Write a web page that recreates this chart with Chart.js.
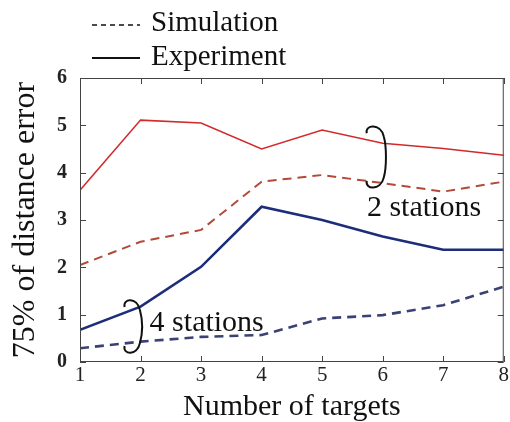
<!DOCTYPE html>
<html>
<head>
<meta charset="utf-8">
<script src="https://cdn.jsdelivr.net/npm/chart.js@4"></script>
<style>
  html, body { margin: 0; padding: 0; background: #fff; }
  #wrap { width: 510px; height: 422px; }
</style>
</head>
<body>
<div id="wrap"><canvas id="myChart" width="510" height="422"></canvas></div>
<script>
const serif = "'Liberation Serif', 'DejaVu Serif', serif";

// number of targets on the x axis
const targets = [1, 2, 3, 4, 5, 6, 7, 8];
// 75% distance error, 2 stations
const exp2 = [3.63, 5.11, 5.05, 4.50, 4.90, 4.62, 4.51, 4.37];
const sim2 = [2.05, 2.54, 2.79, 3.81, 3.95, 3.78, 3.60, 3.81];
// 75% distance error, 4 stations
const exp4 = [0.68, 1.17, 2.01, 3.28, 3.00, 2.65, 2.37, 2.37];
const sim4 = [0.29, 0.43, 0.53, 0.57, 0.92, 0.99, 1.20, 1.59];
const yTicks = [0, 1, 2, 3, 4, 5, 6];

const pts = (vals) => targets.map((t, i) => ({ x: t, y: vals[i] }));

// brackets + labels, in data units
const groups = [
  { text: '2 stations', bx: 5.72, bx2: 6.05, top: 4.98, bot: 3.68, tx: 5.74, ty: 3.25 },
  { text: '4 stations', bx: 1.72, bx2: 2.02, top: 1.31, bot: 0.19, tx: 2.15, ty: 0.82 }
];

const decor = {
  id: 'decor',
  afterDraw(chart) {
    const ctx = chart.ctx;
    const xs = chart.scales.x, ys = chart.scales.y;
    const a = chart.chartArea;
    ctx.save();

    // frame
    ctx.strokeStyle = '#444';
    ctx.lineWidth = 1;
    ctx.strokeRect(a.left + 0.5, a.top + 0.5, a.right - a.left - 1, a.bottom - a.top - 1);

    // inward ticks on all sides
    ctx.beginPath();
    targets.forEach(t => {
      const px = Math.round(xs.getPixelForValue(t)) + 0.5;
      ctx.moveTo(px, a.bottom); ctx.lineTo(px, a.bottom - 6);
      ctx.moveTo(px, a.top); ctx.lineTo(px, a.top + 6);
    });
    yTicks.forEach(v => {
      const py = Math.round(ys.getPixelForValue(v)) + 0.5;
      ctx.moveTo(a.left, py); ctx.lineTo(a.left + 6, py);
      ctx.moveTo(a.right, py); ctx.lineTo(a.right - 6, py);
    });
    ctx.stroke();

    // hooked ")" brackets and group labels
    ctx.strokeStyle = '#111';
    ctx.lineWidth = 2;
    ctx.fillStyle = '#111';
    ctx.font = '30px ' + serif;
    ctx.textBaseline = 'middle';
    groups.forEach(g => {
      const x0 = xs.getPixelForValue(g.bx);
      const x1 = xs.getPixelForValue(g.bx2);
      const y0 = ys.getPixelForValue(g.top);
      const y1 = ys.getPixelForValue(g.bot);
      const w = x1 - x0;
      ctx.beginPath();
      ctx.moveTo(x0 + 1, y0 + 7);
      ctx.bezierCurveTo(x0 - 1, y0 - 2, x0 + w * 0.75, y0 - 3, x0 + w * 0.9, y0 + 10);
      ctx.bezierCurveTo(x0 + w * 1.05, y0 + 20, x0 + w * 1.05, y1 - 20, x0 + w * 0.9, y1 - 10);
      ctx.bezierCurveTo(x0 + w * 0.75, y1 + 3, x0 - 1, y1 + 2, x0 + 1, y1 - 7);
      ctx.stroke();
      ctx.fillText(g.text, xs.getPixelForValue(g.tx), ys.getPixelForValue(g.ty));
    });

    // legend
    ctx.font = '29px ' + serif;
    ctx.lineWidth = 1.5;
    ctx.setLineDash([5, 4]);
    ctx.beginPath(); ctx.moveTo(92, 25); ctx.lineTo(140, 25); ctx.stroke();
    ctx.setLineDash([]);
    ctx.lineWidth = 2;
    ctx.beginPath(); ctx.moveTo(92, 58); ctx.lineTo(140, 58); ctx.stroke();
    ctx.textBaseline = 'alphabetic';
    ctx.fillText('Simulation', 151, 31);
    ctx.fillText('Experiment', 151, 65);

    ctx.restore();
  }
};

new Chart(document.getElementById('myChart'), {
  type: 'line',
  data: {
    datasets: [
      { label: 'Experiment, 2 stations', data: pts(exp2), borderColor: '#d22a2a', borderWidth: 1.5 },
      { label: 'Simulation, 2 stations', data: pts(sim2), borderColor: '#b24a38', borderWidth: 2, borderDash: [9, 6] },
      { label: 'Experiment, 4 stations', data: pts(exp4), borderColor: '#1d2d7a', borderWidth: 2.6 },
      { label: 'Simulation, 4 stations', data: pts(sim4), borderColor: '#3a4174', borderWidth: 2.6, borderDash: [9, 6] }
    ]
  },
  options: {
    responsive: false,
    animation: false,
    layout: { padding: { left: 0, right: 3, top: 78, bottom: 0 } },
    elements: { point: { radius: 0 }, line: { tension: 0, fill: false } },
    plugins: { legend: { display: false }, tooltip: { enabled: false } },
    scales: {
      x: {
        type: 'linear', min: 1, max: 8,
        afterFit: (s) => { s.height = 60; },
        grid: { display: false, drawTicks: false },
        border: { display: false },
        ticks: { stepSize: 1, padding: 1, color: '#222', font: { family: serif, size: 21 } },
        title: { display: true, text: 'Number of targets', color: '#111', padding: 0,
                 font: { family: serif, size: 30, lineHeight: 1 } }
      },
      y: {
        min: 0, max: 6,
        afterFit: (s) => { s.width = 80; },
        grid: { display: false, drawTicks: false },
        border: { display: false },
        ticks: { stepSize: 1, padding: 13, color: '#222', font: { family: serif, size: 20, weight: 'bold' } },
        title: { display: true, text: '75% of distance error', color: '#111', padding: { top: 10, bottom: 0 },
                 font: { family: serif, size: 32, lineHeight: 1 } }
      }
    }
  },
  plugins: [decor]
});
</script>
</body>
</html>
